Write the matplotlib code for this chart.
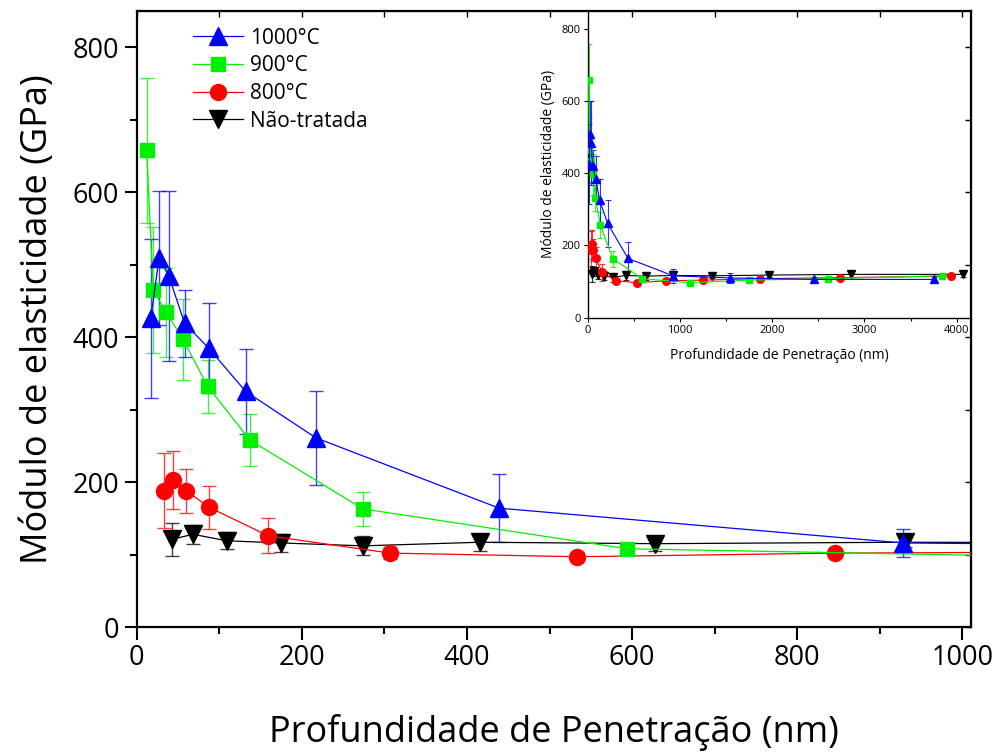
import matplotlib
matplotlib.use("Agg")
import matplotlib.pyplot as plt
from matplotlib.ticker import MultipleLocator

plt.rcParams['font.family'] = ['Open Sans', 'DejaVu Sans']

# ---- data ----
labels = ['1000°C', '900°C', '800°C', 'Não-tratada']

x_1000 = [17, 27, 39, 58, 87, 132, 217, 439, 928, 1548, 2452, 3754]
y_1000 = [426, 509, 484, 419, 385, 325, 261, 164, 116, 110, 106, 106]
e_1000 = [110, 92, 117, 46, 62, 59, 65, 47, 19, 15, 8, 6]

x_900 = [12, 20, 36, 56, 86, 137, 274, 594, 1110, 1750, 2608, 3841]
y_900 = [658, 465, 434, 397, 332, 258, 163, 108, 97, 104, 108, 116]
e_900 = [100, 87, 62, 56, 37, 36, 23, 8, 5, 5, 5, 5]

x_800 = [33, 44, 60, 88, 159, 307, 533, 846, 1255, 1866, 2734, 3938]
y_800 = [188, 203, 188, 165, 126, 102, 97, 102, 104, 108, 111, 115]
e_800 = [52, 40, 30, 30, 24, 8, 4, 4, 4, 4, 4, 4]

x_nt = [43, 68, 109, 175, 274, 416, 628, 930, 1349, 1971, 2853, 4065]
y_nt = [121, 128, 119, 116, 112, 117, 115, 117, 116, 118, 120, 120]
e_nt = [23, 13, 12, 12, 13, 12, 10, 6, 6, 6, 6, 6]

series = [
    (x_nt, y_nt, e_nt, labels[3], 'black', 'v', 13),
    (x_800, y_800, e_800, labels[2], '#ff0000', 'o', 11.5),
    (x_900, y_900, e_900, labels[1], '#00f000', 's', 10),
    (x_1000, y_1000, e_1000, labels[0], '#0000ff', '^', 13),
]

fig = plt.figure(figsize=(9.95, 7.54), dpi=100)
ax = fig.add_axes([0.1374, 0.1684, 0.8382, 0.8170])

handles = {}
for x, y, e, lab, c, m, ms in series:
    ax.errorbar(x, y, yerr=e, fmt='none', ecolor=c, elinewidth=1.0,
                capsize=4.8, capthick=1.0, alpha=0.75, zorder=2)
    h, = ax.plot(x, y, color=c, lw=0.9, marker=m, ms=ms, mec=c, mfc=c,
                 label=lab, zorder=3)
    handles[lab] = h

ax.set_xlim(0, 1010)
ax.set_ylim(0, 850)
ax.xaxis.set_major_locator(MultipleLocator(200))
ax.xaxis.set_minor_locator(MultipleLocator(100))
ax.yaxis.set_major_locator(MultipleLocator(200))
ax.yaxis.set_minor_locator(MultipleLocator(100))
ax.tick_params(which='major', direction='out', length=9, width=1.5,
               labelsize=19.5, top=False, right=False)
ax.tick_params(which='minor', direction='out', length=5, width=1.5,
               top=False, right=False)
for s in ax.spines.values():
    s.set_linewidth(1.6)

# inward ticks on top and right
axt = ax.secondary_xaxis('top')
axt.set_xticks(range(0, 1001, 100))
axt.tick_params(direction='in', length=4, width=1.0, labeltop=False)
axt.set_xticklabels([])
axr = ax.secondary_yaxis('right')
axr.set_yticks(range(0, 801, 100))
axr.tick_params(direction='in', length=4, width=1.0)
axr.set_yticklabels([])

ax.set_xlabel('Profundidade de Penetração (nm)', fontsize=26, labelpad=30)
ax.set_ylabel('Módulo de elasticidade (GPa)', fontsize=26, labelpad=12)

ax.legend([handles[l] for l in labels], labels, loc='upper left',
          bbox_to_anchor=(0.048, 1.0), frameon=False, fontsize=15,
          handlelength=2.4, handletextpad=0.3, labelspacing=0.32,
          borderaxespad=0.4)

# ---- inset ----
ins = fig.add_axes([0.5905, 0.5787, 0.3854, 0.4068])
ins.set_facecolor('none')
ins_ms = {'v': 6, 'o': 5.5, 's': 5, '^': 6}
for x, y, e, lab, c, m, ms in series:
    ins.errorbar(x, y, yerr=e, fmt='none', ecolor=c, elinewidth=0.8,
                 capsize=2, capthick=0.8, alpha=0.8, zorder=2)
    ins.plot(x, y, color=c, lw=0.8, marker=m, ms=ins_ms[m], mec=c, mfc=c,
             zorder=3)
ins.set_xlim(0, 4154)
ins.set_ylim(0, 850)
ins.xaxis.set_major_locator(MultipleLocator(1000))
ins.xaxis.set_minor_locator(MultipleLocator(500))
ins.yaxis.set_major_locator(MultipleLocator(200))
ins.tick_params(which='major', direction='out', length=3, width=0.8,
                labelsize=8, pad=2)
ins.tick_params(which='minor', direction='out', length=2, width=0.8)
ins.spines['top'].set_visible(False)
ins.spines['right'].set_visible(False)
for s in ['left', 'bottom']:
    ins.spines[s].set_linewidth(1.0)
ins.set_xlabel('Profundidade de Penetração (nm)', fontsize=10, labelpad=9)
ins.set_ylabel('Módulo de elasticidade (GPa)', fontsize=10, labelpad=4)

fig.savefig('out.png', dpi=100)
